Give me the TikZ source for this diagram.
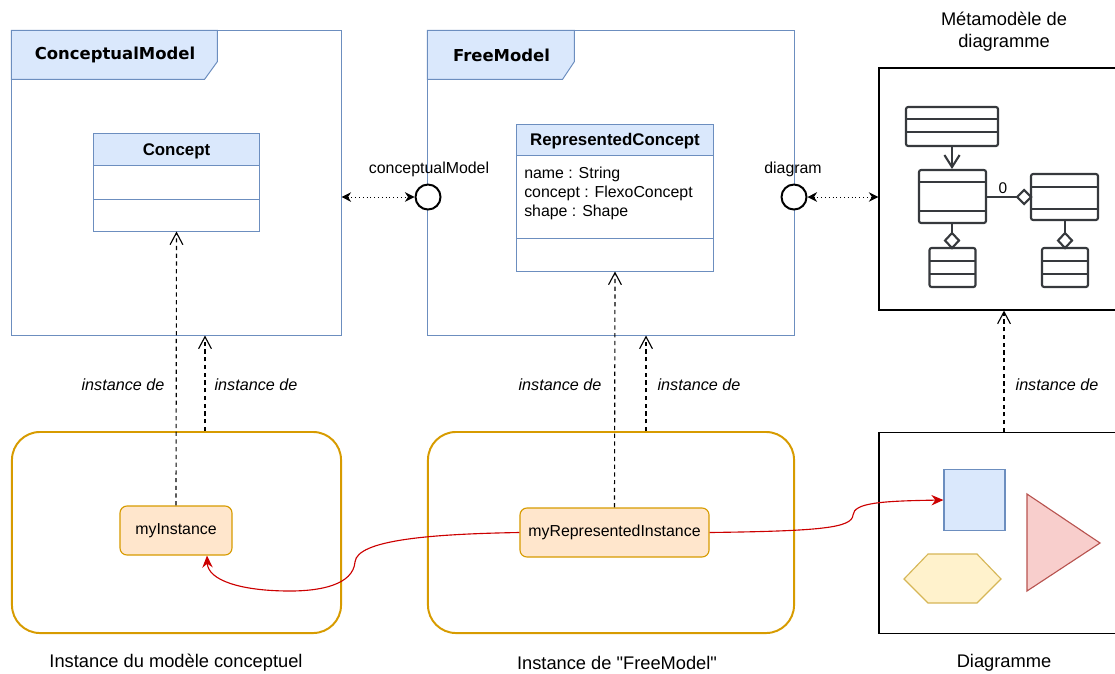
\documentclass[tikz,border=0pt]{standalone}
\usepackage{fontspec}
\setmainfont{Liberation Sans}
\newfontfamily\pkgfont{DejaVu Sans}
\usepackage{tikz}
\usetikzlibrary{arrows.meta,positioning,shapes.geometric,calc}

\definecolor{pkgfill}{HTML}{DAE8FC}
\definecolor{pkgline}{HTML}{6C8EBF}
\definecolor{instfill}{HTML}{FFE6CC}
\definecolor{instline}{HTML}{D79B00}
\definecolor{trifill}{HTML}{F8CECC}
\definecolor{triline}{HTML}{B85450}
\definecolor{hexfill}{HTML}{FFF2CC}
\definecolor{hexline}{HTML}{D6B656}
\definecolor{linkred}{HTML}{CC0000}
\definecolor{iconline}{HTML}{36393D}

\begin{document}
\begin{tikzpicture}[
    x=0.025cm, y=-0.025cm,
    frame/.style={rectangle, draw=pkgline, line width=0.7pt, inner sep=0pt},
    tab/.style={draw=pkgline, fill=pkgfill, line width=0.7pt},
    pkgtitle/.style={font=\pkgfont\bfseries\fontsize{11.7}{14}\selectfont},
    classbox/.style={rectangle, draw=pkgline, fill=white, line width=0.7pt, inner sep=0pt},
    classtitle/.style={font=\bfseries\fontsize{12}{14}\selectfont},
    inst/.style={rectangle, rounded corners=5pt, draw=instline, fill=instfill, line width=0.8pt, font=\fontsize{11.3}{13}\selectfont},
    group/.style={rectangle, rounded corners=0.7cm, draw=instline, line width=1.4pt, inner sep=0pt},
    port/.style={circle, draw=black, line width=1.4pt, fill=white, minimum size=0.625cm, inner sep=0pt},
    lbl/.style={font=\fontsize{11.3}{13.5}\selectfont},
    instlbl/.style={font=\itshape\fontsize{11.5}{13}\selectfont},
    caption/.style={font=\fontsize{13}{15.6}\selectfont, align=center},
    instof/.style={-{Straight Barb[length=3mm,width=3.2mm]}, dash pattern=on 3pt off 2.5pt, line width=0.8pt},
    uses/.style={{Stealth[length=2.4mm,width=2.4mm]}-{Stealth[length=2.4mm,width=2.4mm]}, dotted, line width=0.7pt},
    link/.style={-{Stealth[length=3mm,width=2.6mm]}, draw=linkred, line width=0.8pt},
    icon/.style={draw=iconline, line width=1.5pt, rounded corners=1.5pt, fill=white},
]
\useasboundingbox (0,0) rectangle (1115,673);
\clip (0,0) rectangle (1115,673);

% Packages
\node[frame, minimum width=8.225cm, minimum height=7.6cm] (cmframe) at (176.5,183) {};
\filldraw[tab] (cmframe.north west) -- ++(206,0) -- ++(0,31) -- ++(-13,18) -- ++(-193,0) -- cycle;
\node[pkgtitle] (cmtitle) at (115,55) {ConceptualModel};

\node[frame, minimum width=9.15cm, minimum height=7.6cm] (fmframe) at (611,183) {};
\filldraw[tab] (fmframe.north west) -- ++(147,0) -- ++(0,31) -- ++(-12,18) -- ++(-135,0) -- cycle;
\node[pkgtitle] (fmtitle) at (501.5,55) {FreeModel};

% Classes
\node[classbox, minimum width=4.125cm, minimum height=2.425cm] (concept) at (176.5,182.5) {};
\filldraw[tab] (concept.north west) rectangle ($(concept.north east)+(0,32)$);
\draw[draw=pkgline, line width=0.7pt] ($(concept.north west)+(0,66)$) -- ($(concept.north east)+(0,66)$);
\node[classtitle] (concepttitle) at (176.5,151) {Concept};

\node[classbox, minimum width=4.9cm, minimum height=3.65cm] (repconcept) at (615,198) {};
\filldraw[tab] (repconcept.north west) rectangle ($(repconcept.north east)+(0,31)$);
\draw[draw=pkgline, line width=0.7pt] ($(repconcept.north west)+(0,114)$) -- ($(repconcept.north east)+(0,114)$);
\node[classtitle] (repconcepttitle) at (615,141) {RepresentedConcept};
\node[lbl, anchor=north west, align=left, inner sep=0pt] (repconceptattr) at (524,167) {name : String\\concept : FlexoConcept\\shape : Shape};

% Ports
\node[port] (cmport) at (428,197) {};
\node[port] (dgport) at (794,197) {};
\node[lbl] (cmportlbl) at (429,169) {conceptualModel};
\node[lbl] (dgportlbl) at (793,169) {diagram};

% Diagram metamodel
\node[rectangle, draw, line width=0.8pt, minimum width=6.25cm, minimum height=6.05cm] (metabox) at (1004,189) {};
\node[caption] (metacap) at (1004,32) {Métamodèle de\\diagramme};
\draw[icon] (906,107) rectangle (998,146);
\draw[iconline, line width=1.5pt] (906,119) -- (998,119) (906,132) -- (998,132);
\draw[icon] (919,170) rectangle (986,223);
\draw[iconline, line width=1.5pt] (919,182) -- (986,182) (919,211) -- (986,211);
\draw[icon] (1031,174) rectangle (1098,220);
\draw[iconline, line width=1.5pt] (1031,187) -- (1098,187) (1031,209) -- (1098,209);
\foreach \cx in {952.5,1065}{
  \draw[icon] (\cx-23,248) rectangle (\cx+23,287);
  \draw[iconline, line width=1.5pt] (\cx-23,261) -- (\cx+23,261) (\cx-23,274) -- (\cx+23,274);
}
\draw[iconline, line width=1.5pt, -{Straight Barb[length=3mm,width=3.8mm]}] (952,146) -- (952,169);
\draw[iconline, line width=1.5pt] (986,197) -- (1017,197) (952,223) -- (952,233) (1065,220) -- (1065,233);
\draw[icon, rounded corners=0pt] (1017,197) -- (1024,190) -- (1031,197) -- (1024,204) -- cycle;
\draw[icon, rounded corners=0pt] (952,233) -- (959,240.5) -- (952,248) -- (945,240.5) -- cycle;
\draw[icon, rounded corners=0pt] (1065,233) -- (1072,240.5) -- (1065,248) -- (1058,240.5) -- cycle;
\node[font=\fontsize{11}{13}\selectfont] (zero) at (1003,188) {0};

% Diagram
\node[rectangle, draw, line width=0.8pt, minimum width=6.25cm, minimum height=5.025cm] (diagbox) at (1004,533) {};
\node[rectangle, draw=pkgline, fill=pkgfill, line width=0.8pt, minimum size=1.525cm, inner sep=0pt] (shapesq) at (974.5,500) {};
\filldraw[draw=triline, fill=trifill, line width=0.8pt] (1027,494) -- (1027,591) -- (1100,543) -- cycle;
\filldraw[draw=hexline, fill=hexfill, line width=0.8pt] (904,579) -- (928,554) -- (977,554) -- (1001,579) -- (977,603) -- (928,603) -- cycle;
\node[caption] (diagcap) at (1004,663) {Diagramme};

% Instances
\node[group, minimum width=8.225cm, minimum height=5.025cm] (cmgroup) at (176.5,532.5) {};
\node[group, minimum width=9.15cm, minimum height=5.025cm] (fmgroup) at (611,532.5) {};
\node[caption] (cmgroupcap) at (176,663) {Instance du modèle conceptuel};
\node[caption] (fmgroupcap) at (617,663) {Instance de \textquotedbl FreeModel\textquotedbl};

\node[inst, minimum width=2.8cm, minimum height=1.225cm] (myinst) at (176,530.5) {myInstance};
\node[inst, minimum width=4.725cm, minimum height=1.225cm] (myrepinst) at (614.5,532.5) {myRepresentedInstance};

% Links
\draw[uses] (cmframe.east |- cmport) -- (cmport.west);
\draw[uses] (dgport.east) -- (metabox.west |- dgport);

\draw[link] (myrepinst.west) .. controls (430,534) and (357,540) .. (355,562)
  .. controls (353,585) and (320,591) .. (290,591)
  .. controls (240,591) and (208,580) .. ($(myinst.south)+(31,0)$);
\draw[link] (myrepinst.east) .. controls (820,531) and (852,528) .. (853,515)
  .. controls (854,503) and (880,501) .. (shapesq.west);

% Instance de
\draw[instof] (myinst.north) -- (concept.south);
\draw[instof] ($(cmgroup.north)+(28.5,0)$) -- ($(cmframe.south)+(28.5,0)$);
\draw[instof] (myrepinst.north) -- (repconcept.south);
\draw[instof] ($(fmgroup.north)+(35,0)$) -- ($(fmframe.south)+(35,0)$);
\draw[instof] (diagbox.north) -- (metabox.south);
\node[instlbl] (instlbl1) at (123,385) {instance de};
\node[instlbl] (instlbl2) at (256,385) {instance de};
\node[instlbl] (instlbl3) at (560,385) {instance de};
\node[instlbl] (instlbl4) at (699,385) {instance de};
\node[instlbl] (instlbl5) at (1057,385) {instance de};

\end{tikzpicture}
\end{document}
